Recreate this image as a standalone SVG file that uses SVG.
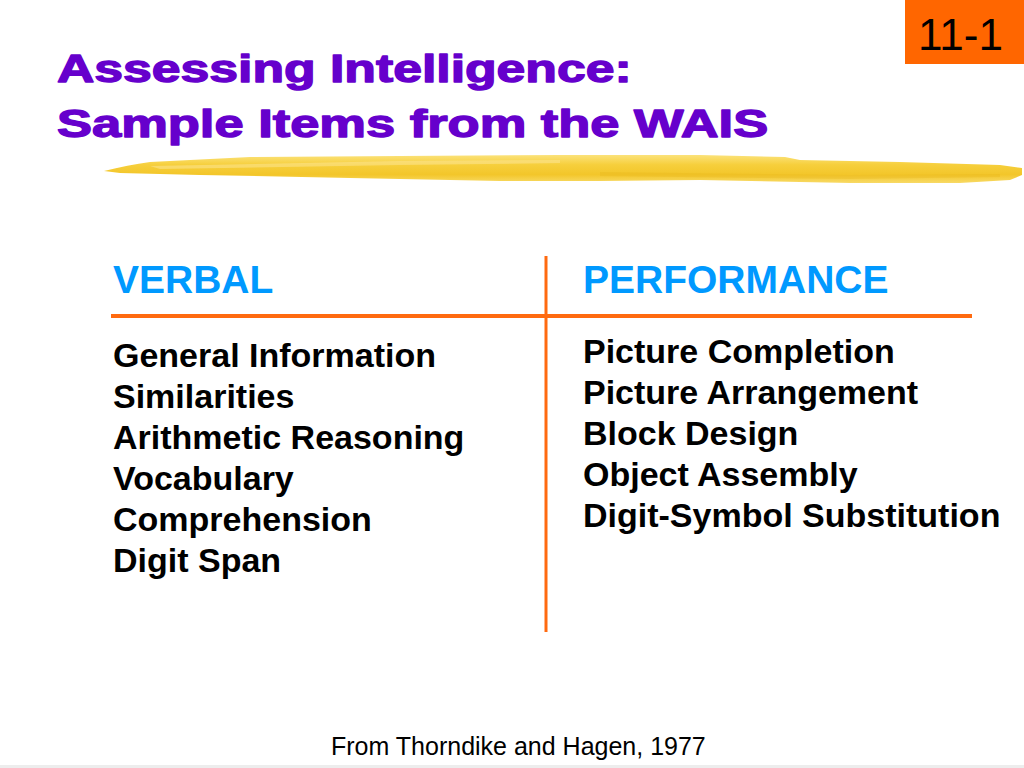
<svg xmlns="http://www.w3.org/2000/svg" width="1024" height="768" viewBox="0 0 1024 768">
  <style>
    .title { font-family: "Liberation Sans", Arial, sans-serif; font-weight: bold; font-size: 38px; fill: #6600CC; stroke: #6600CC; stroke-width: 1.3px; stroke-linejoin: round; }
    .head { font-family: "Liberation Sans", Arial, sans-serif; font-weight: bold; font-size: 39px; fill: #0099FF; }
    .item { font-family: "Liberation Sans", Arial, sans-serif; font-weight: bold; font-size: 34px; fill: #000000; }
    .foot { font-family: "Liberation Sans", Arial, sans-serif; font-size: 25px; fill: #000000; }
    .rule { stroke: #FF6A10; fill: none; }
  </style>
  <defs>
    <linearGradient id="brush" x1="0" y1="0" x2="0" y2="1">
      <stop offset="0" stop-color="#FBE27A"/>
      <stop offset="0.35" stop-color="#F6CF3C"/>
      <stop offset="0.7" stop-color="#F3C62A"/>
      <stop offset="1" stop-color="#F8DA66"/>
    </linearGradient>
  </defs>
  <rect x="0" y="0" width="1024" height="768" fill="#FFFFFF"/>
  <rect x="0" y="765" width="1024" height="3" fill="#EDEDED"/>

  <g id="slide-number">
    <rect x="905" y="0" width="119" height="64" fill="#FF6600"/>
    <text x="918" y="50" font-family="Liberation Sans, Arial, sans-serif" font-size="44" fill="#000000" textLength="85" lengthAdjust="spacingAndGlyphs">11-1</text>
  </g>

  <g id="title">
    <text class="title" transform="translate(57,82) scale(1.365,1)" x="0" y="0" textLength="421" lengthAdjust="spacingAndGlyphs">Assessing Intelligence:</text>
    <text class="title" transform="translate(57,137) scale(1.365,1)" x="0" y="0" textLength="521" lengthAdjust="spacingAndGlyphs">Sample Items from the WAIS</text>
  </g>

  <g id="brush-stroke">
    <path fill="url(#brush)" d="M104,171 C120,167 135,164 150,162 L250,157 L400,156 L560,155 L700,155 L785,157 L800,160 L900,162 L1000,165 L1022,168 L1022,175 L1010,180 L960,183 L850,183 L700,180 L600,181 L500,181 L350,178 L200,175 L120,173 Z"/>
    <path fill="#FBE38A" opacity="0.6" d="M150,166 L400,161 L560,160 L560,163 L400,165 L160,169 Z"/>
    <path fill="#E8B81E" opacity="0.35" d="M600,172 L850,175 L1000,174 L1000,177 L850,179 L600,176 Z"/>
  </g>

  <g id="connectors">
    <line class="rule" x1="111" y1="316" x2="972" y2="316" stroke-width="4"/>
    <line class="rule" x1="546" y1="256" x2="546" y2="632" stroke-width="3"/>
  </g>

  <g id="verbal">
    <text class="head" x="113" y="293">VERBAL</text>
    <text class="item" x="113" y="367">General Information</text>
    <text class="item" x="113" y="408">Similarities</text>
    <text class="item" x="113" y="449">Arithmetic Reasoning</text>
    <text class="item" x="113" y="490">Vocabulary</text>
    <text class="item" x="113" y="531">Comprehension</text>
    <text class="item" x="113" y="572">Digit Span</text>
  </g>

  <g id="performance">
    <text class="head" x="583" y="293">PERFORMANCE</text>
    <text class="item" x="583" y="363">Picture Completion</text>
    <text class="item" x="583" y="404">Picture Arrangement</text>
    <text class="item" x="583" y="445">Block Design</text>
    <text class="item" x="583" y="486">Object Assembly</text>
    <text class="item" x="583" y="527">Digit-Symbol Substitution</text>
  </g>

  <g id="source">
    <text class="foot" x="331" y="755">From Thorndike and Hagen, 1977</text>
  </g>
</svg>
